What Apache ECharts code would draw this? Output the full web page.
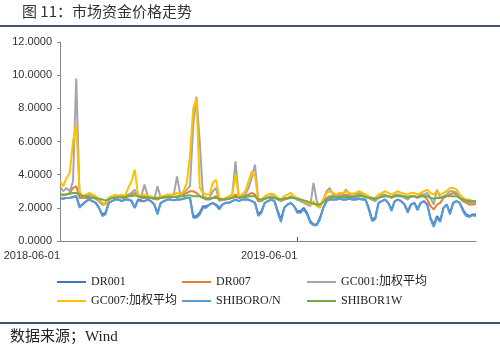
<!DOCTYPE html>
<html>
<head>
<meta charset="utf-8">
<script src="https://cdn.jsdelivr.net/npm/echarts@6/dist/echarts.min.js"></script>
<style>html,body{margin:0;padding:0;background:#fff;}#c{width:500px;height:357px;}</style>
</head>
<body>
<div id="c"></div>
<script>
const dates = [
"2018-06-01","2018-06-06","2018-06-11","2018-06-16","2018-06-21","2018-06-26","2018-07-01","2018-07-06","2018-07-11","2018-07-16",
"2018-07-21","2018-07-26","2018-07-31","2018-08-05","2018-08-10","2018-08-15","2018-08-20","2018-08-25","2018-08-30","2018-09-04",
"2018-09-09","2018-09-14","2018-09-19","2018-09-24","2018-09-29","2018-10-04","2018-10-09","2018-10-14","2018-10-19","2018-10-24",
"2018-10-29","2018-11-03","2018-11-08","2018-11-13","2018-11-18","2018-11-23","2018-11-28","2018-12-03","2018-12-08","2018-12-13",
"2018-12-18","2018-12-23","2018-12-28","2019-01-02","2019-01-07","2019-01-12","2019-01-17","2019-01-22","2019-01-27","2019-02-01",
"2019-02-06","2019-02-11","2019-02-16","2019-02-21","2019-02-26","2019-03-03","2019-03-08","2019-03-13","2019-03-18","2019-03-23",
"2019-03-28","2019-04-02","2019-04-07","2019-04-12","2019-04-17","2019-04-22","2019-04-27","2019-05-02","2019-05-07","2019-05-12",
"2019-05-17","2019-05-22","2019-05-27","2019-06-01","2019-06-06","2019-06-11","2019-06-16","2019-06-21","2019-06-26","2019-07-01",
"2019-07-06","2019-07-11","2019-07-16","2019-07-21","2019-07-26","2019-07-31","2019-08-05","2019-08-10","2019-08-15","2019-08-20",
"2019-08-25","2019-08-30","2019-09-04","2019-09-09","2019-09-14","2019-09-19","2019-09-24","2019-09-29","2019-10-04","2019-10-09",
"2019-10-14","2019-10-19","2019-10-24","2019-10-29","2019-11-03","2019-11-08","2019-11-13","2019-11-18","2019-11-23","2019-11-28",
"2019-12-03","2019-12-08","2019-12-13","2019-12-18","2019-12-23","2019-12-28","2020-01-02","2020-01-07","2020-01-12","2020-01-17",
"2020-01-22","2020-01-27","2020-02-01","2020-02-06","2020-02-11","2020-02-16","2020-02-21","2020-02-26","2020-03-02"
];
const xTickLabels = ["2018-06-01","2019-06-01"];
const yTicks = [0,2,4,6,8,10,12];

const DR001 = [
2.6,2.55,2.6,2.6,2.65,2.7,2.1,2.2,2.4,2.5,
2.4,2.3,2.0,1.6,1.7,2.3,2.4,2.5,2.5,2.4,
2.5,2.5,2.4,2.0,2.5,2.45,2.4,2.5,2.4,2.2,
1.7,2.3,2.4,2.5,2.5,2.45,2.5,2.5,2.55,2.6,
2.6,1.5,1.5,1.7,2.1,2.1,2.2,2.3,2.2,2.0,
2.2,2.3,2.3,2.4,2.5,2.4,2.5,2.5,2.5,2.4,
2.3,1.6,1.8,2.3,2.4,2.5,2.4,1.8,1.3,2.0,
2.2,2.3,2.1,1.8,1.8,2.0,1.7,1.2,1.0,1.0,
1.4,2.0,2.4,2.5,2.5,2.5,2.55,2.5,2.5,2.55,
2.5,2.5,2.55,2.5,2.5,2.0,1.3,1.4,2.3,2.4,
2.5,2.3,1.9,2.4,2.5,2.4,2.2,1.8,2.2,2.3,
1.95,2.3,2.4,2.2,1.4,0.95,1.5,1.25,2.0,2.2,
1.7,2.3,2.4,2.3,1.9,1.6,1.5,1.6,1.6
];
const DR007 = [
2.8,2.75,2.8,2.9,3.2,3.3,2.6,2.6,2.6,2.6,
2.6,2.55,2.4,2.2,2.2,2.5,2.6,2.6,2.65,2.6,
2.6,2.7,2.8,2.9,2.7,2.6,2.6,2.6,2.6,2.55,
2.5,2.6,2.6,2.65,2.65,2.65,2.7,2.7,2.8,2.9,
3.0,3.0,2.9,2.7,2.6,2.5,2.5,2.6,2.7,2.5,
2.45,2.5,2.55,2.6,2.8,2.6,2.65,2.7,2.8,2.9,
2.8,2.4,2.4,2.55,2.6,2.65,2.6,2.5,2.4,2.5,
2.55,2.6,2.6,2.5,2.5,2.4,2.3,2.2,2.3,2.2,
2.1,2.4,2.6,2.7,2.7,2.7,2.7,2.7,2.8,2.7,
2.7,2.75,2.8,2.7,2.7,2.6,2.5,2.5,2.6,2.7,
2.7,2.7,2.6,2.7,2.75,2.7,2.65,2.6,2.7,2.7,
2.6,2.7,2.7,2.5,2.1,1.9,2.2,2.3,2.6,2.7,
2.8,2.9,2.8,2.6,2.4,2.3,2.2,2.2,2.25
];
const GC001 = [
3.3,3.0,3.2,3.0,3.6,9.8,2.8,2.6,2.7,2.8,
2.7,2.6,2.5,2.2,2.3,2.6,2.7,2.7,2.75,2.7,
2.7,2.8,2.9,3.1,2.7,2.7,3.4,2.7,2.6,2.5,
3.3,2.6,2.65,2.7,2.75,2.8,3.9,2.8,2.9,3.1,
3.3,7.0,8.7,6.0,2.7,2.6,2.6,3.0,3.2,2.4,
2.5,2.55,2.6,2.8,4.8,2.6,2.7,2.8,3.2,3.8,
4.6,2.5,2.4,2.6,2.65,2.7,2.7,2.6,2.4,2.6,
2.6,2.7,2.6,2.5,2.4,2.3,2.2,2.1,3.5,2.4,
2.1,2.5,3.0,3.2,2.8,2.7,2.8,2.8,3.1,2.8,
2.7,2.8,2.9,2.8,2.7,2.6,2.5,2.4,2.6,2.8,
2.8,2.7,2.6,2.8,2.8,2.75,2.6,2.5,2.7,2.7,
2.6,2.8,2.8,2.9,2.6,2.2,3.1,2.6,2.7,2.8,
3.0,3.0,2.9,2.6,2.5,2.4,2.3,2.3,2.3
];
const GC007 = [
3.6,3.3,3.8,4.1,6.0,7.0,3.0,2.7,2.8,2.9,
2.8,2.7,2.5,2.3,2.2,2.6,2.7,2.8,2.7,2.8,
2.7,3.2,3.6,4.3,2.8,2.7,2.8,2.7,2.7,2.6,
2.6,2.7,2.7,2.8,2.8,2.8,2.9,2.8,3.0,3.5,
5.2,8.0,8.6,3.2,2.9,2.8,2.8,3.5,3.7,2.6,
2.5,2.6,2.7,2.8,4.0,2.7,2.8,3.0,3.6,4.2,
3.9,2.5,2.5,2.7,2.8,2.85,2.8,2.6,2.5,2.7,
2.8,2.9,2.7,2.6,2.5,2.4,2.3,2.2,2.4,2.1,
2.0,2.5,2.9,3.0,2.9,2.8,2.9,2.9,3.0,2.9,
2.85,2.9,3.0,2.9,2.8,2.7,2.6,2.6,2.8,2.9,
3.0,2.9,2.8,2.9,3.0,2.9,2.85,2.8,2.9,2.9,
2.8,2.9,3.0,3.1,2.9,2.8,3.0,2.8,2.9,3.0,
3.2,3.2,3.1,2.8,2.6,2.5,2.5,2.4,2.4
];
const SHIBORON = [
2.6,2.55,2.6,2.6,2.65,2.7,2.0,2.25,2.4,2.5,
2.4,2.3,2.0,1.5,1.6,2.3,2.4,2.5,2.5,2.4,
2.5,2.5,2.45,2.0,2.45,2.4,2.4,2.5,2.4,2.2,
1.6,2.3,2.4,2.5,2.5,2.45,2.5,2.5,2.55,2.6,
2.6,1.4,1.4,1.6,2.0,2.0,2.2,2.3,2.15,1.9,
2.2,2.3,2.3,2.4,2.5,2.4,2.5,2.5,2.5,2.4,
2.3,1.5,1.7,2.3,2.4,2.5,2.4,1.7,1.15,2.0,
2.2,2.3,2.1,1.7,1.7,1.9,1.6,1.1,0.95,0.95,
1.3,2.0,2.4,2.5,2.5,2.5,2.55,2.5,2.5,2.55,
2.5,2.5,2.55,2.5,2.5,1.9,1.2,1.3,2.3,2.4,
2.5,2.3,1.8,2.4,2.5,2.4,2.2,1.7,2.2,2.3,
1.85,2.3,2.4,2.2,1.3,0.85,1.4,1.15,2.0,2.2,
1.6,2.3,2.4,2.3,1.8,1.5,1.45,1.55,1.5
];
const SHIBOR1W = [
2.8,2.8,2.8,2.85,2.9,2.9,2.8,2.7,2.7,2.65,
2.6,2.6,2.55,2.5,2.45,2.5,2.6,2.6,2.65,2.65,
2.65,2.7,2.7,2.75,2.7,2.65,2.65,2.65,2.6,2.6,
2.6,2.6,2.65,2.65,2.65,2.65,2.65,2.7,2.7,2.75,
2.75,2.7,2.7,2.7,2.6,2.55,2.55,2.6,2.6,2.55,
2.5,2.55,2.55,2.6,2.65,2.6,2.65,2.65,2.7,2.7,
2.7,2.5,2.5,2.55,2.6,2.6,2.6,2.55,2.5,2.55,
2.6,2.6,2.6,2.55,2.5,2.45,2.4,2.3,2.25,2.2,
2.2,2.35,2.5,2.6,2.65,2.65,2.65,2.65,2.65,2.65,
2.65,2.65,2.7,2.7,2.65,2.6,2.6,2.55,2.6,2.65,
2.7,2.7,2.65,2.7,2.7,2.7,2.7,2.65,2.7,2.7,
2.65,2.7,2.7,2.7,2.6,2.55,2.6,2.6,2.65,2.7,
2.7,2.7,2.7,2.6,2.5,2.45,2.4,2.4,2.4
];

const seriesNames = ["DR001","DR007","GC001:加权平均","GC007:加权平均","SHIBORO/N","SHIBOR1W"];
const seriesData = [DR001, DR007, GC001, GC007, SHIBORON, SHIBOR1W];
const colors = ["#4472C4","#ED7D31","#A5A5A5","#FFC000","#5B9BD5","#70AD47"];

const legendPos = [[57,276],[182,276],[307,276],[57,295],[182,295],[307,295]];
const xLabelIdx = xTickLabels.map(d => dates.indexOf(d));

const chart = echarts.init(document.getElementById('c'), null, {renderer:'canvas'});
chart.setOption({
  animation:false,
  backgroundColor:'#fff',
  color: colors,
  grid:{left:60, right:24, top:42, bottom:116},
  legend: seriesNames.map((n,i)=>({
    data:[n], left:legendPos[i][0], top:legendPos[i][1], padding:0,
    icon:'rect', itemWidth:29, itemHeight:2, itemGap:0,
    textStyle:{fontFamily:'Liberation Serif, "Noto Sans CJK SC"', fontSize:12, color:'#222', padding:[0,0,0,0]}
  })),
  xAxis:{
    type:'category', data:dates, boundaryGap:false,
    axisLine:{lineStyle:{color:'#868686', width:1}},
    axisTick:{show:true, inside:true, length:4, lineStyle:{color:'#555'}, interval:(idx)=>idx===xLabelIdx[1]},
    axisLabel:{interval:(idx)=>xLabelIdx.indexOf(idx)>=0, align:'right', margin:9,
      fontFamily:'Liberation Sans, Arial', fontSize:11, color:'#333'},
    splitLine:{show:false}
  },
  yAxis:{
    type:'value', min:yTicks[0], max:yTicks[yTicks.length-1], interval:2,
    axisLine:{show:true, lineStyle:{color:'#868686', width:1}},
    axisTick:{show:true, length:3, lineStyle:{color:'#868686'}},
    axisLabel:{formatter:(v)=>v.toFixed(4), margin:8, fontFamily:'Liberation Sans, Arial', fontSize:11, color:'#333'},
    splitLine:{show:false}
  },
  series: seriesNames.map((n,i)=>({
    name:n, type:'line', data:seriesData[i], symbol:'none', showSymbol:false,
    lineStyle:{width:2, color:colors[i]}, itemStyle:{color:colors[i]}
  })),
  graphic:[
    {type:'text', left:22, top:4, style:{text:'图 11：市场资金价格走势', fontFamily:'"Noto Sans CJK SC"', fontSize:15, fill:'#333'}},
    {type:'rect', shape:{x:0, y:25, width:500, height:2}, style:{fill:'#3C5173'}},
    {type:'rect', shape:{x:0, y:322, width:500, height:2}, style:{fill:'#3C5173'}},
    {type:'text', left:10, top:330, style:{text:'数据来源；Wind', fontFamily:'"Liberation Serif", "Noto Sans CJK SC"', fontSize:15, fill:'#222'}}
  ]
});
</script>
</body>
</html>
